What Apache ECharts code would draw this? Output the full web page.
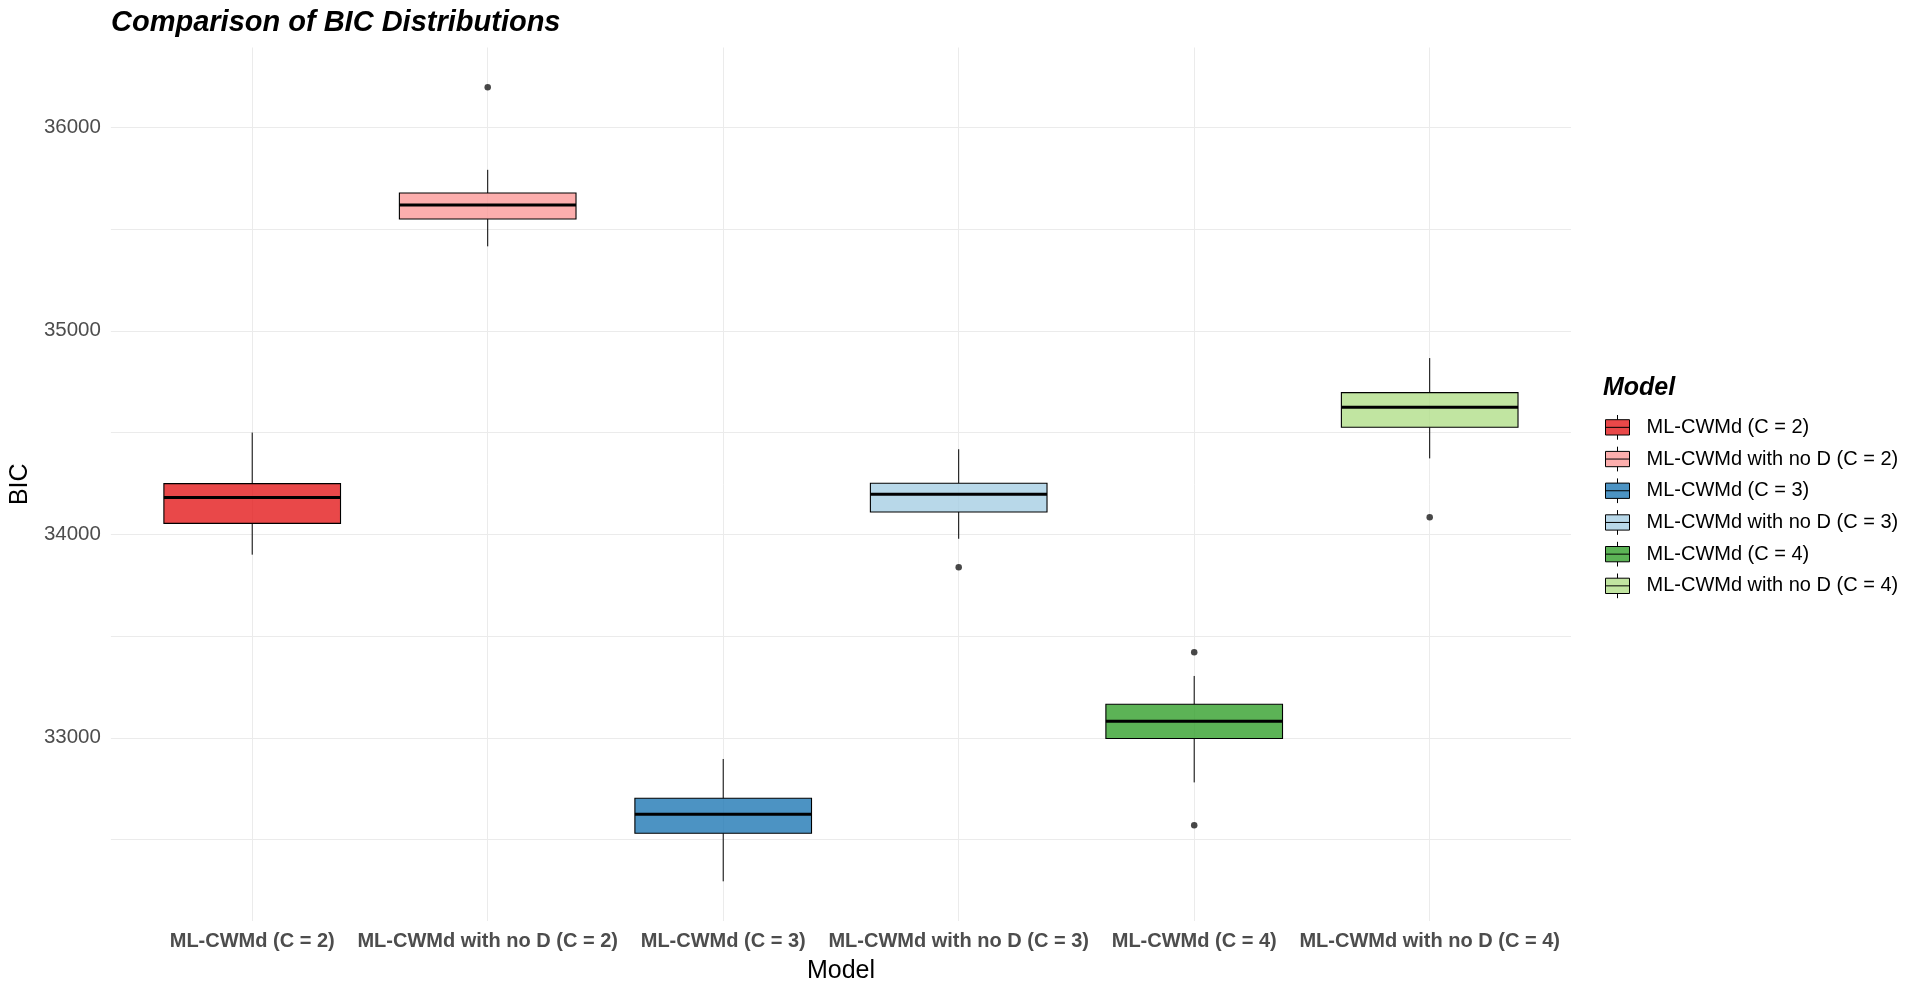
<!DOCTYPE html>
<html>
<head>
<meta charset="utf-8">
<title>Comparison of BIC Distributions</title>
<script src="https://cdn.jsdelivr.net/npm/echarts@6/dist/echarts.min.js"></script>
<style>
  html, body { margin: 0; padding: 0; background: #fff; }
  #chart { width: 1919px; height: 991px; }
</style>
</head>
<body>
<div id="chart"></div>
<script>
// models, in axis order
const categories = [
  'ML-CWMd (C = 2)',
  'ML-CWMd with no D (C = 2)',
  'ML-CWMd (C = 3)',
  'ML-CWMd with no D (C = 3)',
  'ML-CWMd (C = 4)',
  'ML-CWMd with no D (C = 4)'
]

// box statistics
const lowerWhisker = [33900, 35415, 32295, 33978, 32781, 34373]
const q1 = [34054, 35549, 32531, 34110, 32997, 34526]
const median = [34181, 35618, 32624, 34197, 33081, 34624]
const q3 = [34249, 35677, 32703, 34251, 33165, 34696]
const upperWhisker = [34500, 35791, 32896, 34418, 33304, 34866]
const outliers = [[], [36197], [], [33838], [33420, 32570], [34084]]

const yTickLabels = [33000, 34000, 35000, 36000]

// Paired palette at alpha 0.8
const fills = [
  'rgba(227,26,28,0.8)',
  'rgba(251,154,153,0.8)',
  'rgba(31,120,180,0.8)',
  'rgba(166,206,227,0.8)',
  'rgba(51,160,44,0.8)',
  'rgba(178,223,138,0.8)'
]

const font = "'Liberation Sans', Arial, sans-serif"

// ggplot style box: no whisker caps, thick median
function renderBox(params, api) {
  let x = api.value(0)
  let lw = api.coord([x, api.value(1)])
  let lo = api.coord([x, api.value(2)])
  let md = api.coord([x, api.value(3)])
  let hi = api.coord([x, api.value(4)])
  let uw = api.coord([x, api.value(5)])
  let cx = lw[0]
  let half = api.size([1, 0])[0] * 0.75 / 2
  return {
    type: 'group',
    children: [
      { type: 'line', shape: { x1: cx, y1: uw[1], x2: cx, y2: hi[1] }, style: { stroke: '#000', lineWidth: 1 } },
      { type: 'line', shape: { x1: cx, y1: lo[1], x2: cx, y2: lw[1] }, style: { stroke: '#000', lineWidth: 1 } },
      {
        type: 'rect',
        shape: { x: cx - half, y: hi[1], width: half * 2, height: lo[1] - hi[1] },
        style: { fill: api.visual('color'), stroke: '#000', lineWidth: 1.1 }
      },
      { type: 'line', shape: { x1: cx - half, y1: md[1], x2: cx + half, y2: md[1] }, style: { stroke: '#000', lineWidth: 3 } }
    ]
  }
}

let boxSeries = categories.map((name, i) => ({
  name: name,
  type: 'custom',
  renderItem: renderBox,
  itemStyle: { color: fills[i] },
  encode: { x: 0, y: [1, 2, 3, 4, 5] },
  data: [[i, lowerWhisker[i], q1[i], median[i], q3[i], upperWhisker[i]]],
  z: 2
}))

let outlierData = []
outliers.forEach((vals, i) => {
  vals.forEach(v => outlierData.push([i, v]))
})

let myChart = echarts.init(document.getElementById('chart'))
let options = {
  backgroundColor: '#fff',
  animation: false,
  textStyle: { fontFamily: font },
  title: [
    {
      text: 'Comparison of BIC Distributions',
      left: 111,
      top: 8.5,
      padding: 0,
      textStyle: { fontFamily: font, fontSize: 29, fontWeight: 'bold', fontStyle: 'italic', color: '#000' }
    },
    {
      text: 'Model',
      left: 1603,
      top: 375.5,
      padding: 0,
      textStyle: { fontFamily: font, fontSize: 25, fontWeight: 'bold', fontStyle: 'italic', color: '#000' }
    }
  ],
  legend: {
    orient: 'vertical',
    left: 1605,
    top: 414.5,
    padding: 0,
    itemWidth: 24,
    itemHeight: 24.7,
    itemGap: 6,
    icon: 'path://M0,4.7 L24,4.7 L24,20 L0,20 Z M0,12.35 L24,12.35 M12,0 L12,4.7 M12,20 L12,24.7',
    itemStyle: { borderColor: '#000', borderWidth: 1 },
    textStyle: { fontFamily: font, fontSize: 20, color: '#000', padding: [0, 0, 0, 12] },
    data: categories
  },
  grid: {
    left: 109,
    right: 348,
    top: 47.5,
    bottom: 70,
    containLabel: false
  },
  // discrete positions 0..5 with ggplot's 0.6 expansion on each side
  xAxis: {
    type: 'value',
    min: -0.6,
    max: 5.6,
    minInterval: 1,
    maxInterval: 1,
    name: 'Model',
    nameLocation: 'middle',
    nameGap: 38,
    nameTextStyle: { fontFamily: font, fontSize: 25, color: '#000' },
    axisLine: { show: false },
    axisTick: { show: false },
    axisLabel: {
      margin: 10,
      fontFamily: font,
      fontSize: 20,
      fontWeight: 'bold',
      color: '#4D4D4D',
      showMinLabel: false,
      showMaxLabel: false,
      formatter: v => (Number.isInteger(v) && categories[v]) ? categories[v] : ''
    },
    splitLine: {
      show: true,
      showMinLine: false,
      showMaxLine: false,
      lineStyle: { color: '#EBEBEB', width: 1 }
    }
  },
  yAxis: {
    type: 'value',
    min: 32100,
    max: 36392,
    minInterval: 500,
    maxInterval: 500,
    name: 'BIC',
    nameLocation: 'middle',
    nameGap: 67,
    nameTextStyle: { fontFamily: font, fontSize: 25, color: '#000' },
    axisLine: { show: false },
    axisTick: { show: false },
    axisLabel: {
      margin: 10,
      fontFamily: font,
      fontSize: 20.5,
      color: '#4D4D4D',
      showMinLabel: false,
      showMaxLabel: false,
      formatter: v => yTickLabels.indexOf(v) >= 0 ? String(v) : ''
    },
    splitLine: {
      show: true,
      showMinLine: false,
      showMaxLine: false,
      lineStyle: { color: '#EBEBEB', width: 1 }
    }
  },
  series: boxSeries.concat([
    {
      name: 'outliers',
      type: 'scatter',
      symbol: 'circle',
      symbolSize: 6.5,
      itemStyle: { color: '#1a1a1a' },
      data: outlierData,
      z: 3
    }
  ])
}
myChart.setOption(options, true)
window.onresize = myChart.resize
</script>
</body>
</html>
